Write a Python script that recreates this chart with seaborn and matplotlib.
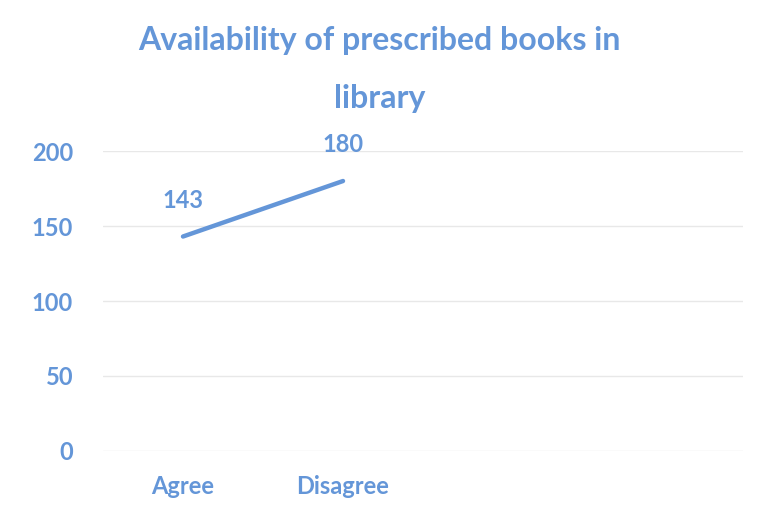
import matplotlib
matplotlib.use("Agg")
import matplotlib.pyplot as plt
import seaborn as sns
import pandas as pd

# values
categories = ["Agree", "Disagree"]
counts = [143, 180]
y_ticks = [0, 50, 100, 150, 200]
n_slots = 4  # the category axis has room for four slots, two are empty

BLUE = "#6496d8"

sns.set_style("white")
plt.rcParams["font.family"] = ["Lato", "DejaVu Sans"]

df = pd.DataFrame({"pos": range(len(categories)), "label": categories, "count": counts})

fig = plt.figure(figsize=(7.59, 5.26), dpi=100)
ax = fig.add_axes([0.1357, 0.1426, 0.8433, 0.5703])

for y in y_ticks:
    ax.axhline(y, color="#e8e8e8", lw=1, zorder=0)

sns.lineplot(data=df, x="pos", y="count", color=BLUE, lw=3.2, ax=ax,
             solid_capstyle="round")

# data labels sit above each point
for _, row in df.iterrows():
    ax.annotate(str(row["count"]), (row["pos"], row["count"]),
                xytext=(0, 26), textcoords="offset points", ha="center",
                va="center", color=BLUE, fontsize=17, fontweight="bold")

ax.set_xlim(-0.5, n_slots - 0.5)
ax.set_ylim(0, 200)
ax.set_xticks(df["pos"])
ax.set_xticklabels(categories)
ax.set_yticks(y_ticks)
ax.tick_params(axis="x", length=0, pad=17, labelsize=17, labelcolor=BLUE)
ax.tick_params(axis="y", length=0, pad=21.5, labelsize=17, labelcolor=BLUE)
for lab in ax.get_xticklabels() + ax.get_yticklabels():
    lab.set_fontweight("bold")
ax.set_xlabel("")
ax.set_ylabel("")
sns.despine(ax=ax, left=True, bottom=True)

fig.text(0.5, 1 - 50 / 526, "Availability of prescribed books in", ha="center",
         va="baseline", color=BLUE, fontsize=23, fontweight="bold")
fig.text(0.5, 1 - 108 / 526, "library", ha="center",
         va="baseline", color=BLUE, fontsize=23, fontweight="bold")

fig.savefig("out.png", dpi=100)
